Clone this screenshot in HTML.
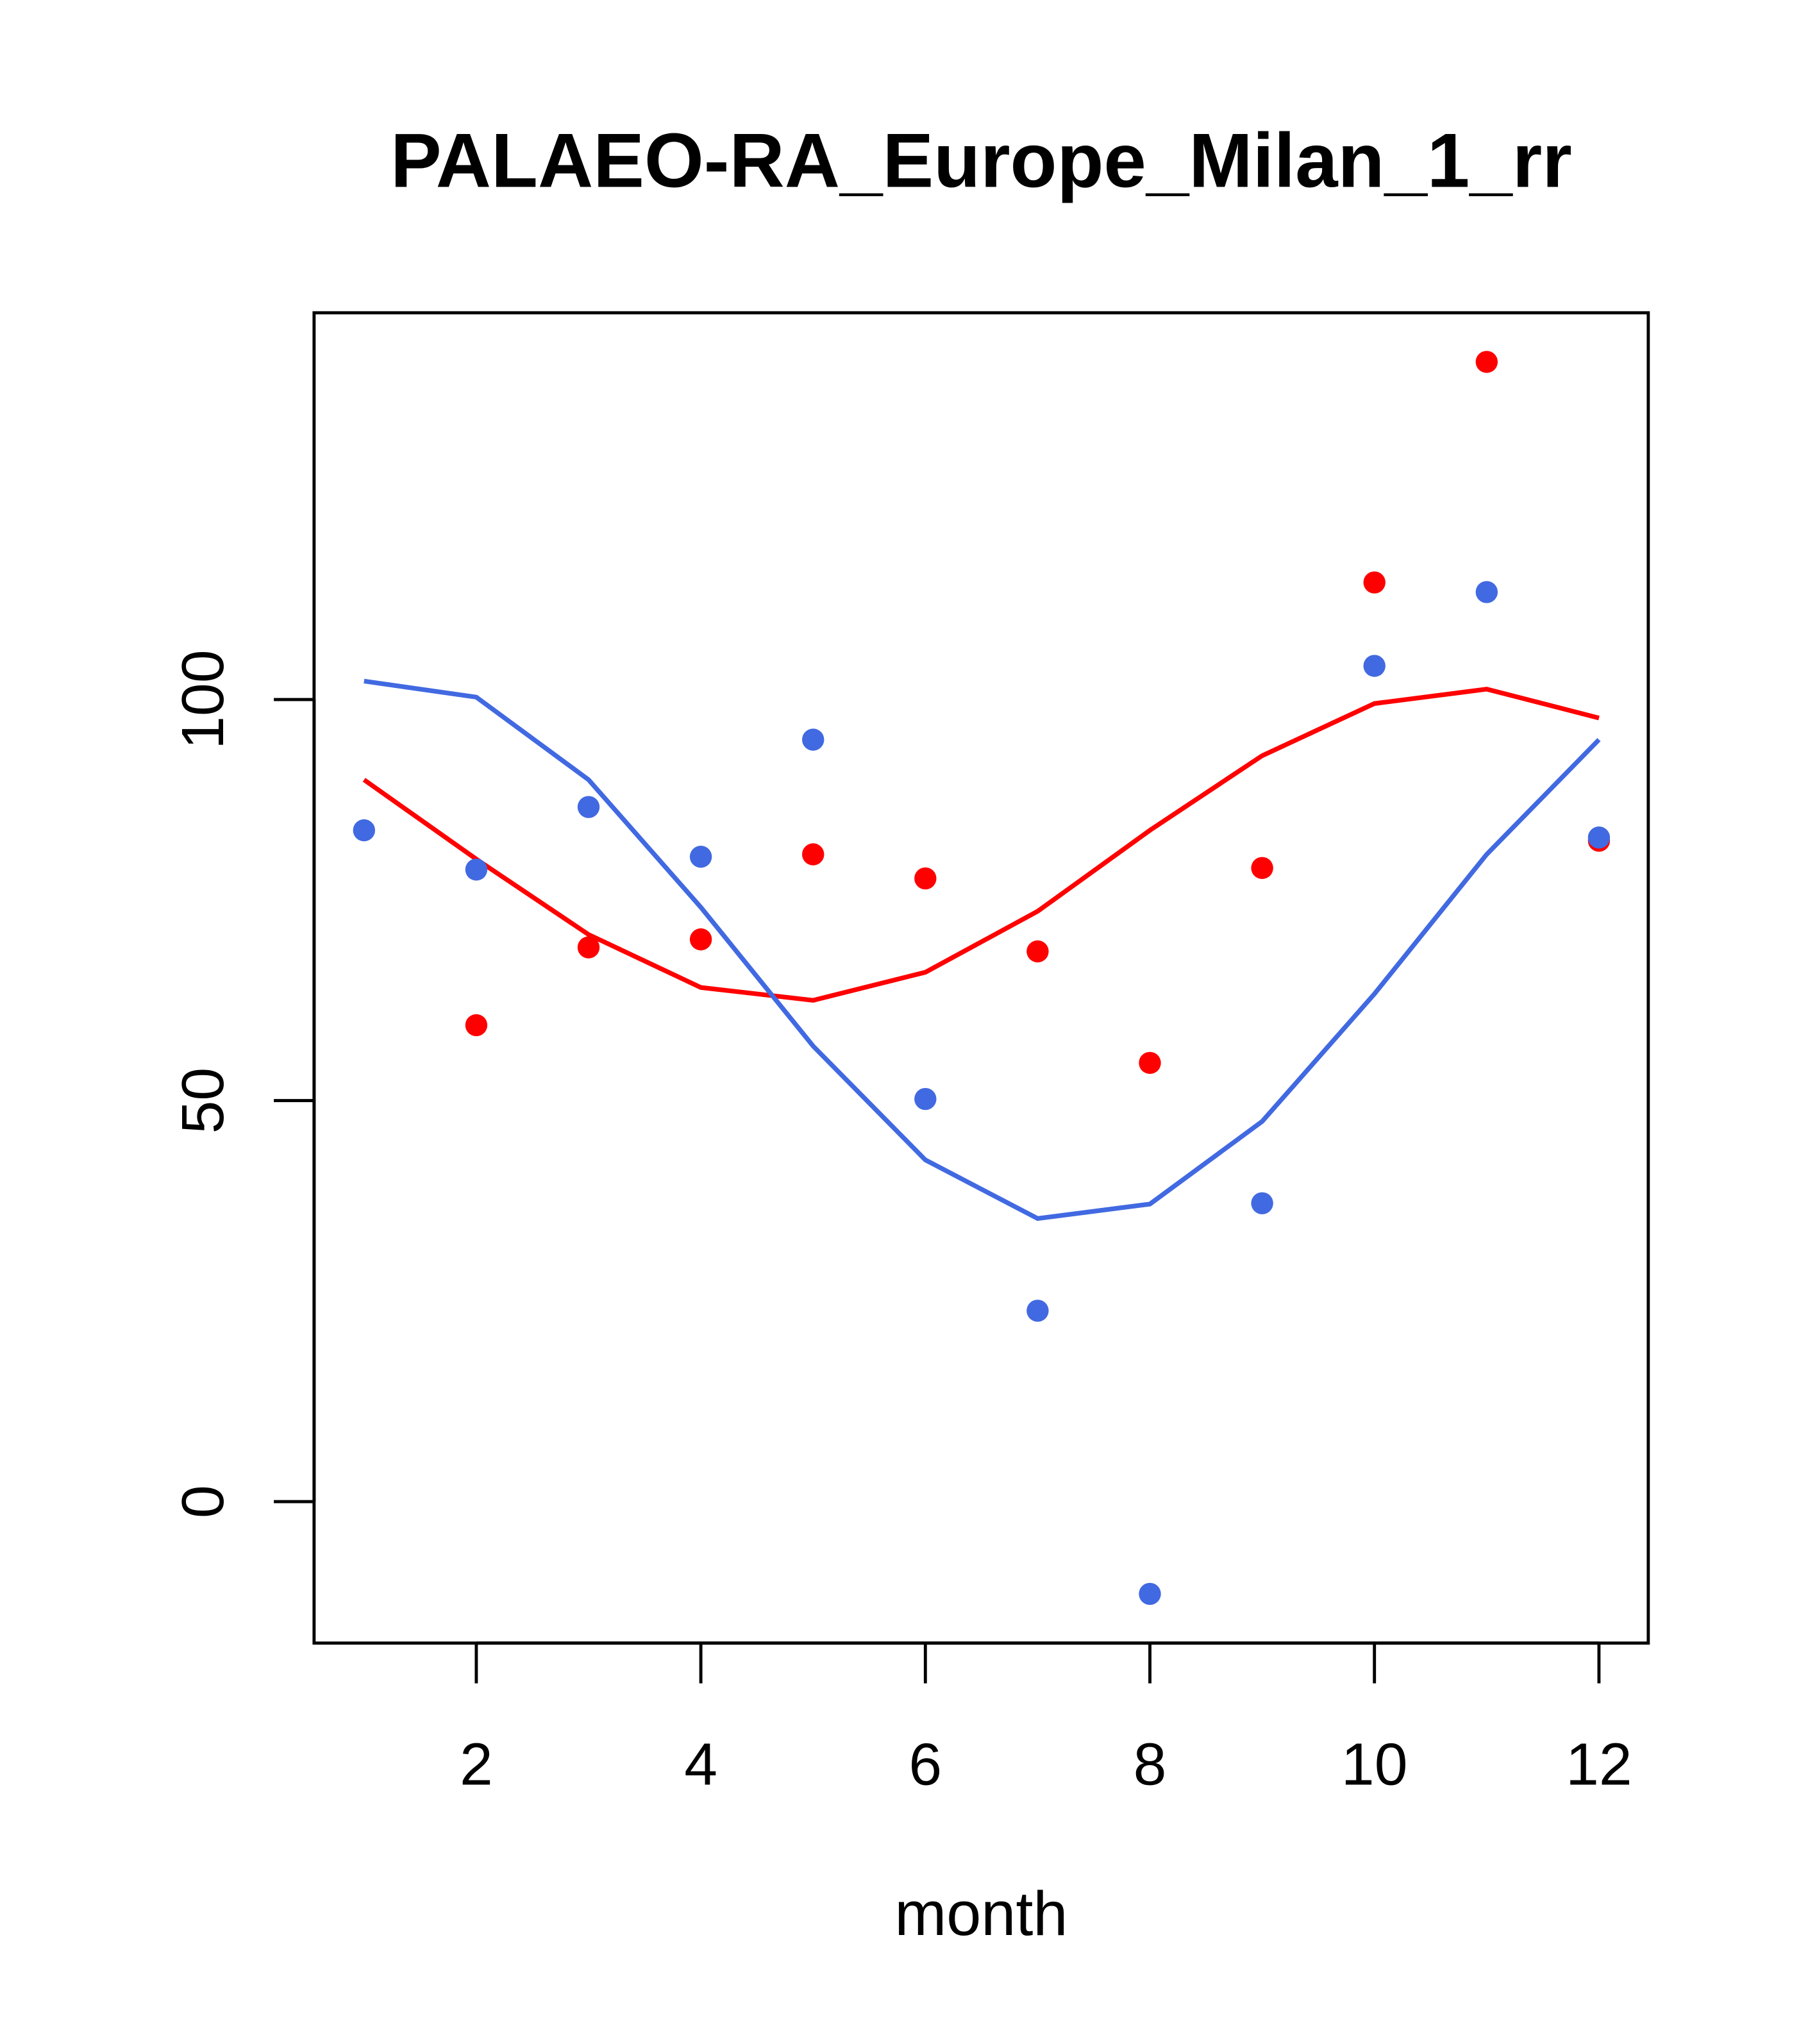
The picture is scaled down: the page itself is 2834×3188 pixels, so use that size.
<!DOCTYPE html>
<html><head><meta charset="utf-8"><style>
html,body{margin:0;padding:0;background:#fff;}
svg{display:block;font-family:"Liberation Sans",Arial,sans-serif;}
</style></head><body>
<svg id="chart" width="2834" height="3188" viewBox="0 0 1400 1574.9" preserveAspectRatio="none" xmlns="http://www.w3.org/2000/svg">
<rect width="1400" height="1575" fill="#fff"/>
<text x="756" y="144" text-anchor="middle" font-size="59" font-weight="bold">PALAEO-RA_Europe_Milan_1_rr</text>
<rect x="242" y="241" width="1028" height="1025" fill="none" stroke="#000" stroke-width="2.4"/>
<g id="xaxis"></g>
<g id="yaxis"></g>
<text x="756" y="1491" text-anchor="middle" font-size="48">month</text>
<g id="series"></g>
</svg>
<script>
const months = [1,2,3,4,5,6,7,8,9,10,11,12];
const xTicks = [2,4,6,8,10,12];
const yTicks = [0,50,100];
const redPoints = [null,59.4,69.1,70.1,80.7,77.7,68.6,54.7,79.0,114.6,142.1,82.4];
const bluePoints = [83.7,78.8,86.6,80.4,95.0,50.2,23.8,-11.5,37.2,104.2,113.4,82.8];
const redLine = [90.0,80.1,70.7,64.1,62.5,66.0,73.6,83.7,93.0,99.5,101.3,97.7];
const blueLine = [102.3,100.3,90.0,74.1,56.8,42.6,35.3,37.1,47.4,63.3,80.7,95.0];

const NS="http://www.w3.org/2000/svg";
const xs = m => 280.5 + (m-1)*86.5;
const ys = v => 1157 - v*6.18;
function mk(tag, attrs, parent){const e=document.createElementNS(NS,tag);for(const k in attrs)e.setAttribute(k,attrs[k]);parent.appendChild(e);return e;}
const xa=document.getElementById('xaxis'), ya=document.getElementById('yaxis'), sg=document.getElementById('series');
mk('line',{x1:xs(2),x2:xs(12),y1:1266,y2:1266,stroke:'#000','stroke-width':2.4},xa);
xTicks.forEach(t=>{
  const l=mk('line',{x1:xs(t),x2:xs(t),y1:1266,y2:1297,stroke:'#000','stroke-width':2.4},xa);
  
  
  const tx=mk('text',{x:xs(t),y:1375,'text-anchor':'middle','font-size':46},xa);
  tx.textContent=t;
  
  
});
mk('line',{x1:242,x2:242,y1:ys(0),y2:ys(100),stroke:'#000','stroke-width':2.4},ya);
yTicks.forEach(t=>{
  const l=mk('line',{x1:211,x2:242,y1:ys(t),y2:ys(t),stroke:'#000','stroke-width':2.4},ya);
  
  
  const tx=mk('text',{x:0,y:0,'text-anchor':'middle','font-size':46,transform:`translate(172,${ys(t)}) rotate(-90)`},ya);
  tx.textContent=t;
  
  
});
function line(vals,color,name){
  const p=mk('polyline',{points:vals.map((v,i)=>xs(months[i])+','+ys(v)).join(' '),fill:'none',stroke:color,'stroke-width':3.6},sg);
  
  
}
function pts(vals,color,name){
  vals.forEach((v,i)=>{ if(v===null) return;
    const c=mk('circle',{cx:xs(months[i]),cy:ys(v),r:8.5,fill:color},sg);
    
    
  });
}
line(redLine,'#ff0000','red-line');
line(blueLine,'#4169e1','blue-line');
pts(redPoints,'#ff0000','red-point');
pts(bluePoints,'#4169e1','blue-point');
</script>
</body></html>
